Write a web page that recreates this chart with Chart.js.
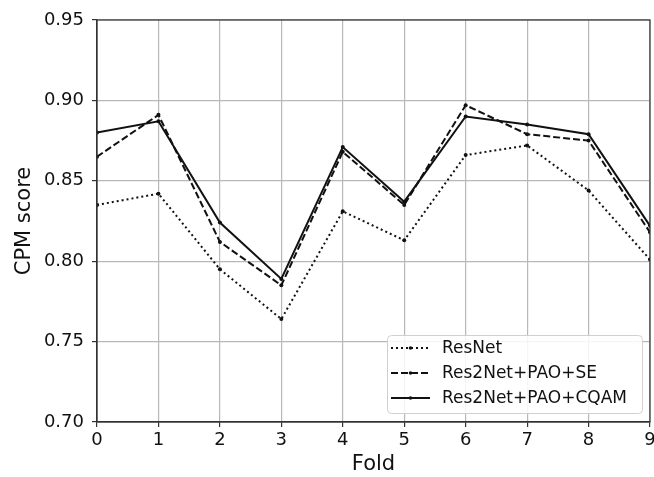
<!DOCTYPE html>
<html>
<head>
<meta charset="utf-8">
<script src="https://cdn.jsdelivr.net/npm/chart.js@4.4.1/dist/chart.umd.min.js"></script>
<style>
  html, body { margin: 0; padding: 0; background: #fff; }
  #wrap { width: 654px; height: 477px; }
</style>
</head>
<body>
<div id="wrap"><canvas id="chartFold"></canvas></div>
<script>
// datos
const folds = [0, 1, 2, 3, 4, 5, 6, 7, 8, 9];
const resnet = [0.835, 0.842, 0.795, 0.764, 0.831, 0.813, 0.866, 0.872, 0.844, 0.801];
const res2netSE = [0.865, 0.891, 0.812, 0.785, 0.868, 0.835, 0.897, 0.879, 0.875, 0.818];
const res2netCQAM = [0.880, 0.887, 0.824, 0.789, 0.871, 0.837, 0.890, 0.885, 0.879, 0.822];
const seriesNames = ['ResNet', 'Res2Net+PAO+SE', 'Res2Net+PAO+CQAM'];
const yTicks = ['0.70', '0.75', '0.80', '0.85', '0.90', '0.95'];
const xTicks = ['0', '1', '2', '3', '4', '5', '6', '7', '8', '9'];

const fuente = 'DejaVu Sans, sans-serif';

function puntos(valores) {
    return folds.map((f, i) => ({ x: f, y: valores[i] }));
}

// marco completo (arriba y derecha) como en matplotlib
const marcoPlugin = {
    id: 'marco',
    afterDatasetsDraw(chart) {
        const { ctx, chartArea } = chart;
        ctx.save();
        ctx.strokeStyle = '#333';
        ctx.lineWidth = 1.2;
        ctx.strokeRect(chartArea.left, chartArea.top, chartArea.right - chartArea.left, chartArea.bottom - chartArea.top);
        ctx.restore();
    }
};

// leyenda dentro del area, abajo a la derecha
const leyendaPlugin = {
    id: 'leyendaDentro',
    afterDraw(chart) {
        const { ctx, chartArea } = chart;
        const ancho = 255, alto = 78;
        const x = chartArea.right - 8 - ancho;
        const y = chartArea.bottom - 9 - alto;
        ctx.save();
        ctx.fillStyle = 'rgba(255,255,255,0.85)';
        ctx.strokeStyle = '#d0d0d0';
        ctx.lineWidth = 1;
        ctx.beginPath();
        ctx.roundRect(x + 0.5, y + 0.5, ancho, alto, 4);
        ctx.fill();
        ctx.stroke();
        ctx.font = '17px ' + fuente;
        ctx.textBaseline = 'middle';
        chart.data.datasets.forEach((ds, i) => {
            const fy = y + 13 + i * 25;
            ctx.strokeStyle = ds.borderColor;
            ctx.lineWidth = ds.borderWidth;
            ctx.setLineDash(ds.borderDash || []);
            ctx.beginPath();
            ctx.moveTo(x + 4, fy);
            ctx.lineTo(x + 43, fy);
            ctx.stroke();
            ctx.setLineDash([]);
            ctx.fillStyle = ds.borderColor;
            ctx.beginPath();
            ctx.arc(x + 23.5, fy, 1.8, 0, Math.PI * 2);
            ctx.fill();
            ctx.fillStyle = '#111';
            ctx.fillText(ds.label, x + 55, fy + 1);
        });
        ctx.restore();
    }
};

const ctxFold = document.getElementById('chartFold').getContext('2d');
const chartFold = new Chart(ctxFold, {
    type: 'line',
    data: {
        datasets: [
            {
                label: seriesNames[0],
                data: puntos(resnet),
                borderColor: '#111',
                backgroundColor: '#111',
                borderWidth: 2,
                borderDash: [2, 3],
                pointRadius: 2,
                pointBorderWidth: 0
            },
            {
                label: seriesNames[1],
                data: puntos(res2netSE),
                borderColor: '#111',
                backgroundColor: '#111',
                borderWidth: 2,
                borderDash: [7, 3],
                pointRadius: 2,
                pointBorderWidth: 0
            },
            {
                label: seriesNames[2],
                data: puntos(res2netCQAM),
                borderColor: '#111',
                backgroundColor: '#111',
                borderWidth: 2,
                pointRadius: 2,
                pointBorderWidth: 0
            }
        ]
    },
    options: {
        responsive: true,
        maintainAspectRatio: false,
        animation: false,
        events: [],
        layout: { padding: { top: 20, right: 1, left: 0, bottom: 0 } },
        plugins: {
            legend: { display: false },
            tooltip: { enabled: false }
        },
        scales: {
            x: {
                type: 'linear',
                min: 0,
                max: 9,
                afterFit(scale) {
                    scale.height = 55;
                    // el "9" queda cortado en el borde, igual que el original
                    scale.paddingRight = 0;
                    scale.paddingLeft = 0;
                },
                afterBuildTicks(scale) {
                    scale.ticks = xTicks.map(t => ({ value: parseFloat(t) }));
                },
                ticks: {
                    color: '#111',
                    font: { family: fuente, size: 18 },
                    padding: 3,
                    maxRotation: 0,
                    callback: (v, i) => xTicks[i]
                },
                grid: { color: '#b8b8b8', lineWidth: 1.2, tickColor: '#333', tickLength: 5 },
                border: { color: '#333', width: 1.2 },
                title: {
                    display: true,
                    text: 'Fold',
                    color: '#111',
                    font: { family: fuente, size: 21 },
                    padding: { top: 0, bottom: 0 }
                }
            },
            y: {
                min: 0.70,
                max: 0.95,
                afterFit(scale) { scale.width = 97; },
                afterBuildTicks(scale) {
                    scale.ticks = yTicks.map(t => ({ value: parseFloat(t) }));
                },
                ticks: {
                    color: '#111',
                    font: { family: fuente, size: 18 },
                    padding: 8,
                    callback: (v, i) => yTicks[i]
                },
                grid: { color: '#b8b8b8', lineWidth: 1.2, tickColor: '#333', tickLength: 5 },
                border: { color: '#333', width: 1.2 },
                title: {
                    display: true,
                    text: 'CPM score',
                    color: '#111',
                    font: { family: fuente, size: 21 },
                    padding: { top: 12, bottom: 0 }
                }
            }
        }
    },
    plugins: [marcoPlugin, leyendaPlugin]
});
</script>
</body>
</html>
